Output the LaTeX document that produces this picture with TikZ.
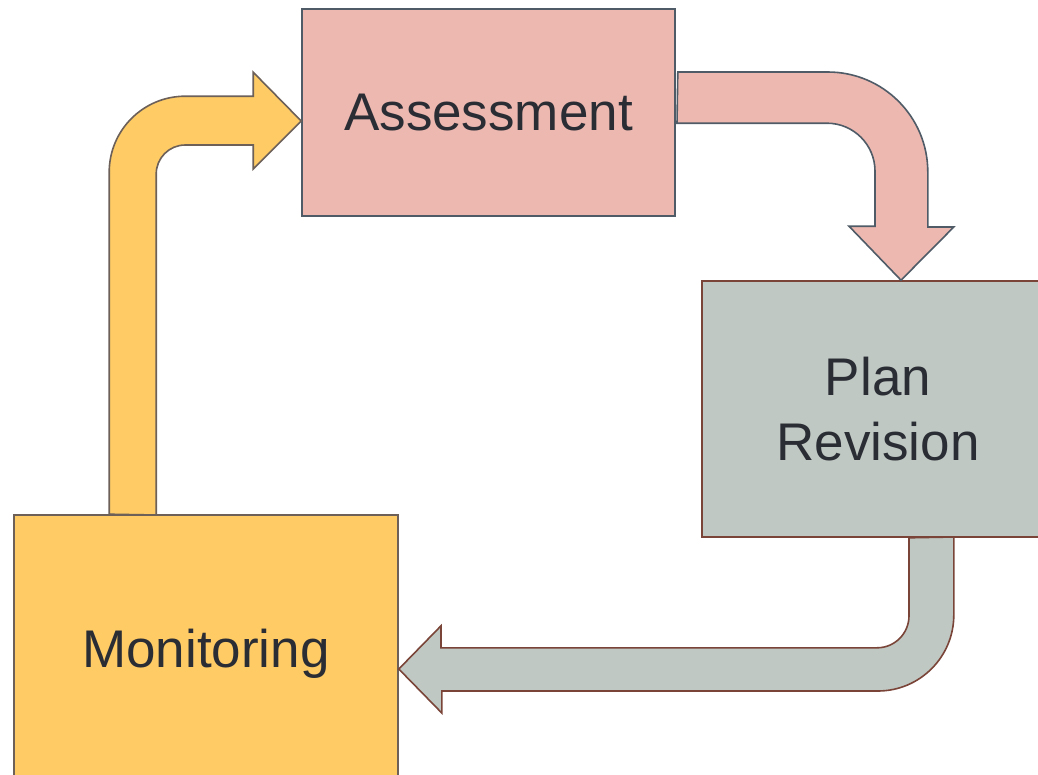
\documentclass[tikz,border=0pt]{standalone}
\usepackage{fontspec}
\setmainfont{Liberation Sans}
\usetikzlibrary{calc}
\definecolor{rosa}{HTML}{ECB8B0}
\definecolor{pizarra}{HTML}{4F5B66}
\definecolor{gris}{HTML}{BFC8C2}
\definecolor{ladrillo}{HTML}{7A4438}
\definecolor{ambar}{HTML}{FECB65}
\definecolor{pardo}{HTML}{6C6059}
\definecolor{texto}{HTML}{2B2D35}
\begin{document}
\begin{tikzpicture}[x=1pt,y=1pt,
   caja/.style={draw,line width=1.6pt,text=texto,inner sep=0pt,align=center,
      font=\fontsize{53pt}{64.5pt}\selectfont},
   flecha/.style={line width=1.6pt}]
   \useasboundingbox (0,0) rectangle (1038,-774);
   \clip (0,0) rectangle (1038,-774);
   \node[caja,draw=pizarra,fill=rosa,minimum width=373pt,minimum height=207pt]
      (evalua) at (488.5,-112.5) {Assessment};
   \node[caja,draw=ladrillo,fill=gris,minimum width=352pt,minimum height=256pt]
      (revis) at (878,-409) {Plan\\Revision};
   \node[caja,draw=pardo,fill=ambar,minimum width=384pt,minimum height=266pt,text depth=0pt]
      (monit) at (206,-648) {Monitoring};
   \draw[flecha,draw=pardo,fill=ambar] ($(monit.north west)+(96,0)$) -- ++(0,342)
      arc[start angle=180,end angle=90,radius=76] -- ++(68,0) -- ++(0,24)
      -- ($(evalua.west)+(0,-8.5)$) -- ++(-48,-48) -- ++(0,24) -- ++(-68,0)
      arc[start angle=90,end angle=180,radius=29] -- ++(0,-341) -- cycle;
   \draw[flecha,draw=pizarra,fill=rosa] ($(evalua.east)+(2,40.5)$) -- ++(150,0)
      arc[start angle=90,end angle=0,radius=100] -- ++(0,-55) -- ++(26,0)
      -- ($(revis.north)+(23,0)$) -- ++(-52,54) -- ++(26,0) -- ++(0,55)
      arc[start angle=0,end angle=90,radius=48] -- ++(-150,0) -- cycle;
   \draw[flecha,draw=ladrillo,fill=gris] ($(revis.south)+(31,0)$) -- ++(0,-78)
      arc[start angle=0,end angle=-90,radius=32] -- ++(-436,0) -- ++(0,22)
      -- ($(monit.east)+(0,-21)$) -- ++(43,-44) -- ++(0,22) -- ++(436,0)
      arc[start angle=-90,end angle=0,radius=76] -- ++(0,78) -- cycle;
\end{tikzpicture}
\end{document}
